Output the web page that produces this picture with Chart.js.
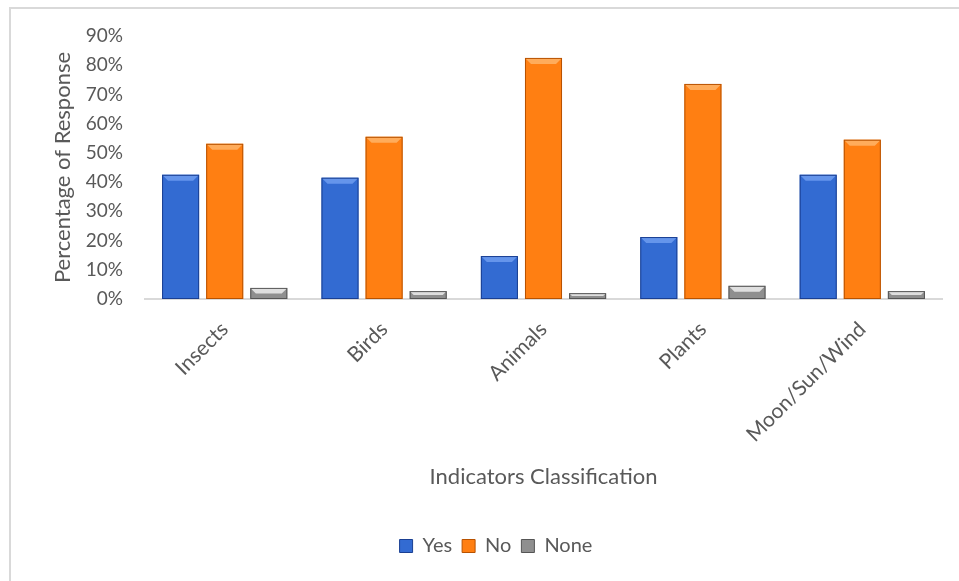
<!DOCTYPE html>
<html>
<head>
<meta charset="utf-8">
<script src="https://cdn.jsdelivr.net/npm/chart.js@4.4.1/dist/chart.umd.min.js"></script>
<style>
  html, body { margin: 0; padding: 0; background: #ffffff; overflow: hidden; }
  #frame { position: absolute; left: 9px; top: 7px; width: 1000px; height: 700px;
           border-left: 2px solid #d9d9d9; border-top: 2px solid #d9d9d9; }
  #wrap { position: absolute; left: 0; top: 0; width: 959px; height: 581px; }
</style>
</head>
<body>
<div id="frame"></div>
<div id="wrap"><canvas id="chart"></canvas></div>
<script>
// Response shares (%) per indicator class
const categories = ['Insects', 'Birds', 'Animals', 'Plants', 'Moon/Sun/Wind'];
const yesValues  = [42.5, 41.5, 14.7, 21.2, 42.5];
const noValues   = [53.1, 55.5, 82.5, 73.6, 54.5];
const noneValues = [3.8, 2.7, 2.0, 4.5, 2.7];
const yTicks     = [0, 10, 20, 30, 40, 50, 60, 70, 80, 90];

const textGrey = '#595959';
const FONT = 'Lato, "Open Sans", sans-serif';

// colour sets: [edge, centre, top highlight]
const palette = {
  Yes:  ['#1a3f92', '#336bd2', '#6f9cf0'],
  No:   ['#b85200', '#ff7f12', '#ffb468'],
  None: ['#555555', '#8f8f8f', '#ededed']
};

function barFill(name) {
  return function (ctx) {
    const el = ctx.element;
    const c = palette[name];
    if (!el || el.width === undefined || !isFinite(el.x)) return c[1];
    const x0 = el.x - el.width / 2, x1 = el.x + el.width / 2;
    const g = ctx.chart.ctx.createLinearGradient(x0, 0, x1, 0);
    g.addColorStop(0, c[0]);
    g.addColorStop(0.2, c[1]);
    g.addColorStop(0.8, c[1]);
    g.addColorStop(1, c[0]);
    return g;
  };
}

// bevelled top face and outline on each bar
const bevel = {
  id: 'bevel',
  afterDatasetsDraw(chart) {
    const ctx = chart.ctx;
    chart.data.datasets.forEach((ds, i) => {
      const meta = chart.getDatasetMeta(i);
      const c = palette[ds.label];
      meta.data.forEach(bar => {
        const w = bar.width, h = bar.base - bar.y;
        const x0 = bar.x - w / 2, x1 = bar.x + w / 2, y = bar.y;
        const d = Math.min(6, h / 2);
        ctx.save();
        ctx.beginPath();
        ctx.moveTo(x0, y);
        ctx.lineTo(x1, y);
        ctx.lineTo(x1 - d, y + d);
        ctx.lineTo(x0 + d, y + d);
        ctx.closePath();
        ctx.fillStyle = c[2];
        ctx.globalAlpha = 0.85;
        ctx.fill();
        ctx.globalAlpha = 1;
        ctx.strokeStyle = c[0];
        ctx.lineWidth = 1;
        ctx.strokeRect(x0 + 0.5, y + 0.5, w - 1, h - 1);
        ctx.restore();
      });
    });
  }
};

function makeSet(name, values) {
  return {
    label: name,
    data: values,
    backgroundColor: barFill(name),
    borderWidth: 0,
    categoryPercentage: 0.83,
    barPercentage: 0.84
  };
}

new Chart(document.getElementById('chart'), {
  type: 'bar',
  data: {
    labels: categories,
    datasets: [
      makeSet('Yes', yesValues),
      makeSet('No', noValues),
      makeSet('None', noneValues)
    ]
  },
  options: {
    responsive: true,
    maintainAspectRatio: false,
    animation: false,
    layout: { padding: { left: 50, right: 17, top: 36, bottom: 15 } },
    plugins: {
      tooltip: { enabled: false },
      legend: {
        position: 'bottom',
        labels: {
          color: textGrey,
          font: { family: FONT, size: 20 },
          boxWidth: 13, boxHeight: 13,
          padding: 10,
          generateLabels(chart) {
            return chart.data.datasets.map((ds, i) => ({
              text: ds.label,
              fillStyle: palette[ds.label][1],
              strokeStyle: palette[ds.label][0],
              lineWidth: 1,
              fontColor: textGrey,
              datasetIndex: i
            }));
          }
        }
      }
    },
    scales: {
      x: {
        afterFit(axis) { axis.height = 227; },
        grid: { display: false, drawTicks: false },
        border: { color: '#d9d9d9', width: 2 },
        ticks: {
          color: textGrey, font: { family: FONT, size: 21 },
          maxRotation: 45, minRotation: 45, padding: 18
        },
        title: {
          display: true, text: 'Indicators Classification',
          color: textGrey, font: { family: FONT, size: 22 },
          padding: { top: 10, bottom: 36 }
        }
      },
      y: {
        min: 0, max: 90,
        afterFit(axis) { axis.width = 95; },
        afterBuildTicks(axis) { axis.ticks = yTicks.map(v => ({ value: v })); },
        grid: { display: false, drawTicks: false },
        border: { display: false },
        ticks: {
          color: textGrey, font: { family: FONT, size: 19 },
          padding: 22,
          callback: v => v + '%'
        },
        title: {
          display: true, text: 'Percentage of Response',
          color: textGrey, font: { family: FONT, size: 22 },
          padding: { top: 0, bottom: 0 }
        }
      }
    }
  },
  plugins: [bevel]
});
</script>
</body>
</html>
